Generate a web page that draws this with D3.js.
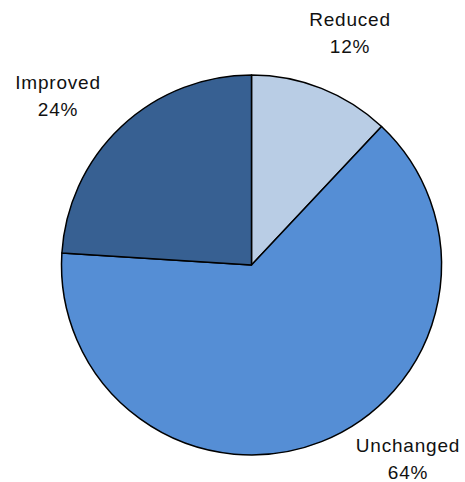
<!DOCTYPE html>
<html>
<head>
<meta charset="utf-8">
<script src="https://cdn.jsdelivr.net/npm/d3@7"></script>
<style>
  body { margin: 0; background: #fff; }
  text { font-family: "Liberation Sans", Arial, sans-serif; font-size: 19px; fill: #111; letter-spacing: 0.8px; }
</style>
</head>
<body>
<div id="chart"></div>
<script>
const categories = ["Reduced", "Unchanged", "Improved"];
const values = [12, 64, 24];
const colors = ["#b9cde5", "#558ed5", "#376092"];

const width = 465, height = 482;
const cx = 251.5, cy = 265, radius = 190;

const svg = d3.select("#chart").append("svg")
  .attr("width", width)
  .attr("height", height);

const data = categories.map((c, i) => ({ name: c, value: values[i], color: colors[i] }));

const pie = d3.pie().sort(null).value(d => d.value);
const arc = d3.arc().innerRadius(0).outerRadius(radius);

const g = svg.append("g").attr("transform", `translate(${cx},${cy})`);

g.selectAll("path")
  .data(pie(data))
  .join("path")
    .attr("d", arc)
    .attr("fill", d => d.data.color)
    .attr("stroke", "#000")
    .attr("stroke-width", 1.5)
    .attr("stroke-linejoin", "round");

// label positions (outside the pie, as in the original)
const labelPos = {
  "Reduced":   [350, 26],
  "Unchanged": [408, 452],
  "Improved":  [58, 89]
};

const labels = svg.selectAll("g.label")
  .data(data)
  .join("g")
    .attr("class", "label")
    .attr("transform", d => `translate(${labelPos[d.name][0]},${labelPos[d.name][1]})`);

labels.append("text")
  .attr("text-anchor", "middle")
  .text(d => d.name);

labels.append("text")
  .attr("text-anchor", "middle")
  .attr("y", 27)
  .text(d => d3.format(".0f")(d.value) + "%");
</script>
</body>
</html>
